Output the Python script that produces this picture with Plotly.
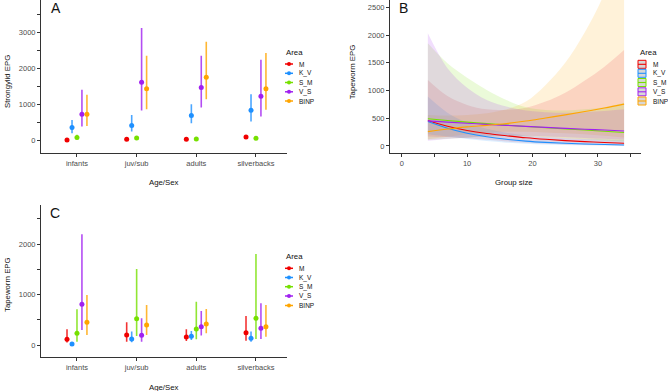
import plotly.graph_objects as go

W, H = 668, 391
FONT = "Liberation Sans"

areas = ["M", "K_V", "S_M", "V_S", "BINP"]
colors = {"M": "#F00000", "K_V": "#1E90FF", "S_M": "#76E000", "V_S": "#A020F0", "BINP": "#FFA500"}
fills = {"M": "rgba(230,40,60,0.15)", "K_V": "rgba(30,144,255,0.15)", "S_M": "rgba(118,224,0,0.15)",
         "V_S": "rgba(160,32,240,0.15)", "BINP": "rgba(255,175,30,0.17)"}
bar_colors = {"M": "rgba(240,0,0,0.8)", "K_V": "rgba(30,144,255,0.8)", "S_M": "rgba(118,224,0,0.8)",
              "V_S": "rgba(160,32,240,0.8)", "BINP": "rgba(255,165,0,0.8)"}

age_groups = ["infants", "juv/sub", "adults", "silverbacks"]

# Panel A: Strongylid EPG (estimate, lower, upper)
strong_mid = {"M": [10, 28, 28, 93], "K_V": [352, 407, 685, 833], "S_M": [75, 65, 37, 56],
              "V_S": [722, 1611, 1463, 1222], "BINP": [722, 1426, 1750, 1426]}
strong_lo = {"M": [0, 10, 10, 60], "K_V": [195, 240, 472, 519], "S_M": [20, 20, 10, 20],
             "V_S": [380, 824, 907, 657], "BINP": [398, 861, 1139, 843]}
strong_hi = {"M": [25, 45, 45, 125], "K_V": [565, 704, 1000, 1278], "S_M": [150, 120, 80, 110],
             "V_S": [1398, 3111, 2343, 2231], "BINP": [1259, 2343, 2731, 2417]}

# Panel C: Tapeworm EPG by age/sex
tape_mid = {"M": [118, 204, 164, 250], "K_V": [26, 125, 178, 138], "S_M": [237, 526, 322, 533],
            "V_S": [809, 197, 368, 336], "BINP": [454, 401, 421, 368]}
tape_lo = {"M": [53, 72, 86, 92], "K_V": [10, 59, 105, 72], "S_M": [72, 184, 118, 125],
           "V_S": [303, 72, 191, 125], "BINP": [204, 204, 237, 171]}
tape_hi = {"M": [316, 454, 316, 579], "K_V": [45, 270, 283, 270], "S_M": [711, 1507, 862, 1803],
           "V_S": [2191, 533, 678, 829], "BINP": [993, 796, 717, 796]}

# Panel B: Tapeworm EPG vs group size (fit, lower, upper)
group_size = [4, 7, 10, 13, 16, 19, 22, 25, 28, 31, 34]
fit = {
    "M":    [460, 355, 280, 225, 185, 148, 120, 97, 78, 62, 48],
    "K_V":  [440, 320, 230, 165, 120, 88, 65, 48, 36, 26, 18],
    "S_M":  [490, 458, 430, 402, 376, 352, 330, 308, 288, 266, 242],
    "V_S":  [453, 430, 409, 390, 372, 353, 335, 318, 302, 287, 270],
    "BINP": [258, 305, 345, 372, 405, 450, 505, 560, 620, 685, 755],
}
fit_lo = {
    "M":    [170, 160, 140, 110, 80, 60, 40, 28, 18, 12, 8],
    "K_V":  [210, 170, 125, 88, 60, 40, 27, 17, 11, 7, 4],
    "S_M":  [110, 130, 150, 170, 180, 175, 160, 140, 120, 100, 80],
    "V_S":  [95, 125, 155, 175, 185, 185, 175, 160, 145, 130, 115],
    "BINP": [120, 165, 210, 240, 255, 255, 245, 230, 210, 185, 155],
}
fit_hi = {
    "M":    [1190, 900, 740, 660, 650, 690, 800, 960, 1180, 1430, 1730],
    "K_V":  [890, 600, 420, 310, 240, 190, 160, 140, 125, 115, 110],
    "S_M":  [1850, 1490, 1230, 1010, 830, 700, 650, 640, 660, 700, 780],
    "V_S":  [2030, 1400, 1050, 830, 710, 640, 610, 600, 610, 630, 660],
    "BINP": [560, 550, 560, 590, 660, 800, 1100, 1500, 2050, 2750, 3700],
}

dodge = {"M": -0.167, "K_V": -0.083, "S_M": 0.0, "V_S": 0.083, "BINP": 0.167}

fig = go.Figure()

def add_points(mid, lo, hi, xa, ya):
    for a in areas:
        xs = [i + dodge[a] for i in range(len(age_groups))]
        fig.add_trace(go.Scatter(
            x=xs, y=mid[a], mode="markers", xaxis=xa, yaxis=ya, showlegend=False,
            marker=dict(color=colors[a], size=5),
            error_y=dict(type="data", symmetric=False,
                         array=[h - m for h, m in zip(hi[a], mid[a])],
                         arrayminus=[m - l for m, l in zip(mid[a], lo[a])],
                         color=bar_colors[a], thickness=1.6, width=0),
        ))

add_points(strong_mid, strong_lo, strong_hi, "x", "y")
add_points(tape_mid, tape_lo, tape_hi, "x3", "y3")

# ribbons: BINP first so the other ribbons tint over it
for a in ["BINP", "M", "K_V", "S_M", "V_S"]:
    fig.add_trace(go.Scatter(x=group_size, y=fit_lo[a], mode="lines", line=dict(width=0, shape="spline"),
                             xaxis="x2", yaxis="y2", showlegend=False, hoverinfo="skip"))
    fig.add_trace(go.Scatter(x=group_size, y=fit_hi[a], mode="lines", line=dict(width=0, shape="spline"),
                             fill="tonexty", fillcolor=fills[a],
                             xaxis="x2", yaxis="y2", showlegend=False, hoverinfo="skip"))
for a in areas:
    fig.add_trace(go.Scatter(x=group_size, y=fit[a], mode="lines",
                             line=dict(color=colors[a], width=1.1, shape="spline"),
                             xaxis="x2", yaxis="y2", showlegend=False))

def px(x):
    return x / W

def py(y):
    return 1 - y / H

axis_common = dict(showline=True, linecolor="#333333", linewidth=1, ticks="outside", ticklen=3,
                   tickcolor="#333333", tickwidth=1, showgrid=False, zeroline=False,
                   tickfont=dict(family=FONT, size=7.5, color="#4D4D4D"))

cat_range = [-0.603, 3.52]
fig.update_layout(
    width=W, height=H, margin=dict(l=0, r=0, t=0, b=0),
    paper_bgcolor="white", plot_bgcolor="white", showlegend=False,
    xaxis=dict(domain=[px(41), px(287)], range=cat_range, tickvals=[0, 1, 2, 3], ticktext=age_groups,
               anchor="y", **axis_common),
    yaxis=dict(domain=[py(153.3), py(0)], range=[-361, 3889],
               tickvals=[0, 500, 1000, 1500, 2000, 2500, 3000, 3500],
               ticktext=["0", "", "1000", "", "2000", "", "3000", ""], anchor="x", **axis_common),
    xaxis2=dict(domain=[px(390), px(640.7)], range=[-1.79, 36.54], tickvals=[0, 5, 10, 15, 20, 25, 30, 35],
                ticktext=["0", "", "10", "", "20", "", "30", ""], anchor="y2", **axis_common),
    yaxis2=dict(domain=[py(153.3), py(0)], range=[-132, 2631], tickvals=[0, 500, 1000, 1500, 2000, 2500],
                anchor="x2", **axis_common),
    xaxis3=dict(domain=[px(41), px(287)], range=cat_range, tickvals=[0, 1, 2, 3], ticktext=age_groups,
                anchor="y3", **axis_common),
    yaxis3=dict(domain=[py(357.3), py(205)], range=[-237, 2770],
                tickvals=[0, 500, 1000, 1500, 2000, 2500],
                ticktext=["0", "", "1000", "", "2000", ""], anchor="x3", **axis_common),
)

annotations = []
shapes = []

def text(x, y, s, size=7.8, color="#111111", xanchor="center", angle=0):
    annotations.append(dict(x=px(x), y=py(y), xref="paper", yref="paper", text=s, showarrow=False,
                            xanchor=xanchor, yanchor="middle", textangle=angle,
                            font=dict(family=FONT, size=size, color=color)))

# panel labels
text(48.5, 8, "A", size=14, xanchor="left")
text(396.5, 8.5, "B", size=14, xanchor="left")
text(47.5, 212.5, "C", size=14, xanchor="left")

# axis titles
text(164, 182, "Age/Sex")
text(514, 182, "Group size")
text(164, 387.5, "Age/Sex")
text(7, 82, "Strongylid EPG", angle=-90)
text(352.3, 72, "Tapeworm EPG", angle=-90)
text(7, 285, "Tapeworm EPG", angle=-90)

# legends for point-range panels
def point_legend(x0, ytitle, ys):
    text(x0, ytitle, "Area", xanchor="left")
    for a, yy in zip(areas, ys):
        shapes.append(dict(type="line", xref="paper", yref="paper", x0=px(x0 + 1), x1=px(x0 + 9),
                           y0=py(yy), y1=py(yy), line=dict(color=colors[a], width=1.5)))
        shapes.append(dict(type="circle", xref="paper", yref="paper", x0=px(x0 + 3), x1=px(x0 + 7),
                           y0=py(yy + 2), y1=py(yy - 2), fillcolor=colors[a], line=dict(width=0)))
        text(x0 + 13, yy, a, size=6.5, xanchor="left")

point_legend(284, 52, [64, 73.3, 82.5, 91.8, 101])
point_legend(284, 256.7, [268.3, 277.5, 286.7, 296, 305.5])

# legend for ribbon panel
text(638, 52.5, "Area", xanchor="left")
for a, yy in zip(areas, [64.3, 73.3, 82.5, 91.8, 101]):
    shapes.append(dict(type="rect", xref="paper", yref="paper", x0=px(638), x1=px(646),
                       y0=py(yy + 4), y1=py(yy - 4), fillcolor="rgba(205,205,205,0.8)",
                       line=dict(color=colors[a], width=1)))
    shapes.append(dict(type="line", xref="paper", yref="paper", x0=px(638), x1=px(646),
                       y0=py(yy), y1=py(yy), line=dict(color=colors[a], width=1.1)))
    text(651, yy, a, size=6.5, xanchor="left")

fig.update_layout(annotations=annotations, shapes=shapes)
fig.write_html("out.html", config={"displayModeBar": False},
               post_script="document.body.style.margin='0';document.body.style.padding='0';")
